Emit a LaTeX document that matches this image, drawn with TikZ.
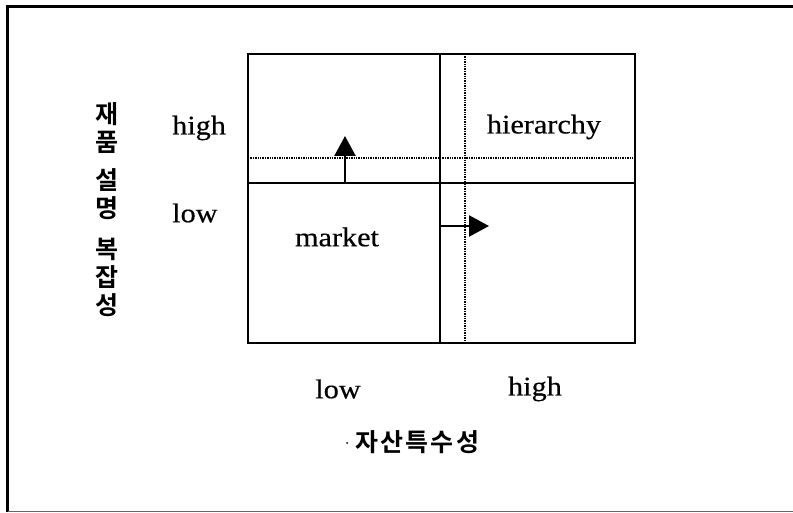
\documentclass[tikz,border=0pt]{standalone}
\usepackage{fontspec}
\setmainfont[FakeStretch=1.12,FakeBold=0.4]{Liberation Serif}
\newfontfamily\kor{Noto Sans CJK KR Bold}
\newfontfamily\korwide[LetterSpace=9]{Noto Sans CJK KR Bold}
\usetikzlibrary{arrows.meta}
\tikzset{
  frame/.style={line width=3pt},
  boxline/.style={line width=2.8pt},
  divline/.style={line width=2.4pt},
  dotline/.style={line width=1.2pt, dash pattern=on 1.4pt off 1pt},
  arr/.style={line width=2.4pt, -{Triangle[length=20pt,width=21pt]}},
  lbl/.style={font=\fontsize{27}{30}\selectfont, inner sep=0pt},
  kr/.style={font=\kor\fontsize{25}{28}\selectfont, inner sep=0pt, align=center},
  krw/.style={font=\korwide\fontsize{25}{28}\selectfont, inner sep=0pt},
}
\begin{document}
\begin{tikzpicture}[x=1pt,y=-1pt]
\useasboundingbox (0,0) rectangle (793,513);
% outer frame
\draw[frame] (7.5,512) -- (7.5,7) -- (793,7);
\draw[line width=1.5pt, black!60] (7.5,511.5) -- (793,511.5);
% coordinates
\coordinate (TL) at (248,54);
\coordinate (BR) at (635,343);
\coordinate (VT) at (440,54);
\coordinate (VB) at (440,343);
\coordinate (HL) at (248,183);
\coordinate (HR) at (635,183);
\coordinate (DHL) at (248,158);
\coordinate (DHR) at (635,158);
\coordinate (DVT) at (465,54);
\coordinate (DVB) at (465,343);
\coordinate (UA0) at (345,183);
\coordinate (UA1) at (345,136);
\coordinate (RA0) at (440,226);
\coordinate (RA1) at (489,226);
% dotted lines
\draw[dotline] (DHL) -- (DHR);
\draw[dotline] (DVT) -- (DVB);
% box
\draw[boxline] (TL) rectangle (BR);
\draw[divline] (VT) -- (VB);
\draw[divline] (HL) -- (HR);
% arrows
\draw[arr] (UA0) -- (UA1);
\draw[arr] (RA0) -- (RA1);
% labels
\node[lbl] (hier) at (544,127) {hierarchy};
\node[lbl] (mkt) at (337,237) {market};
\node[lbl, anchor=west] (yhigh) at (172,128) {high};
\node[lbl, anchor=west] (ylow) at (172,213) {low};
\node[lbl] (xlow) at (338,389) {low};
\node[lbl] (xhigh) at (535,389) {high};
% korean
\node[kr] (k1) at (107,128) {재\\품};
\node[kr] (k2) at (107,194) {설\\명};
\node[kr] (k3) at (107,277) {복\\잡\\성};
\node[krw] (kx) at (417,442) {자산특수성};
\fill (347,443) circle (1pt);
\end{tikzpicture}
\end{document}
